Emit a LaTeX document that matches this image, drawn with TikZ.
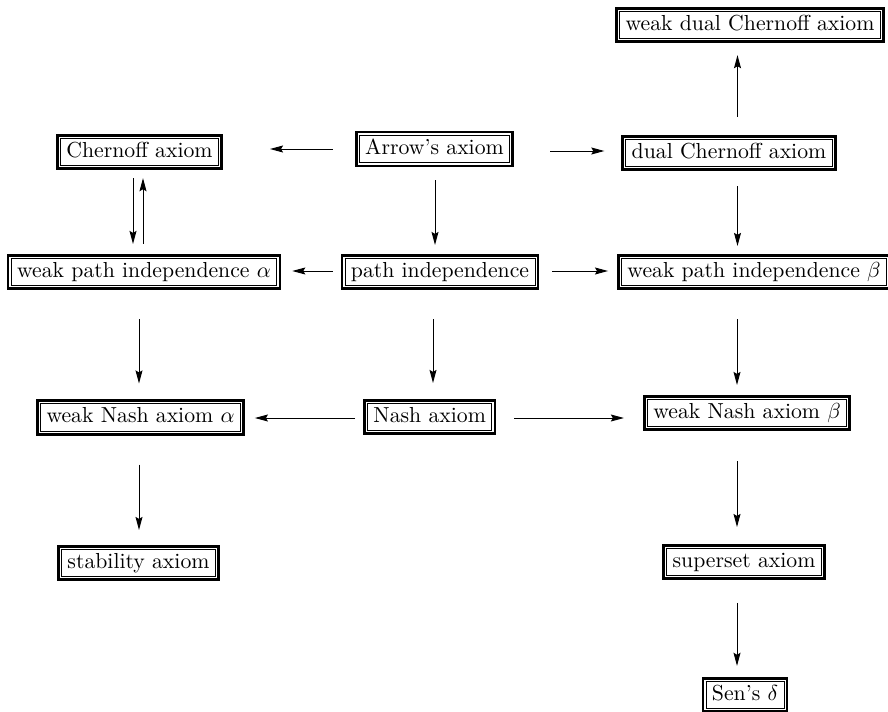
\documentclass[tikz,border=0pt]{standalone}
\usepackage{fontspec}
\usetikzlibrary{arrows.meta,calc}
\setlength{\fboxrule}{0.45pt}
\setlength{\fboxsep}{1.5pt}
\newcommand{\dbox}[1]{\fbox{\kern1pt\vrule width0pt height6.9pt depth2.1pt\relax #1\kern1pt}}
\tikzset{
  ax/.style={draw, line width=1.25pt, inner sep=1.2pt},
  arr/.style={line width=0.45pt, -{Stealth[length=6pt,width=3.2pt,inset=0.9pt]}}
}
\begin{document}
\begin{tikzpicture}[x=0.46pt,y=-0.46pt]
\useasboundingbox (0,0) rectangle (888,712);
\node[ax] (wdc)    at (750,25)     {\dbox{weak dual Chernoff axiom}};
\node[ax] (chern)  at (139.5,152)  {\dbox{Chernoff axiom}};
\node[ax] (arrow)  at (434.5,149)  {\dbox{Arrow's axiom}};
\node[ax] (dchern) at (729,153)    {\dbox{dual Chernoff axiom}};
\node[ax] (wpa)    at (144,272)    {\dbox{weak path independence $\alpha$}};
\node[ax] (pind)   at (440,272)    {\dbox{path independence}};
\node[ax] (wpb)    at (754,272)    {\dbox{weak path independence $\beta$}};
\node[ax] (wna)    at (140.5,417.5){\dbox{weak Nash axiom $\alpha$}};
\node[ax] (nash)   at (429.7,417)  {\dbox{Nash axiom}};
\node[ax] (wnb)    at (747,413)    {\dbox{weak Nash axiom $\beta$}};
\node[ax] (stab)   at (138.5,563)  {\dbox{stability axiom}};
\node[ax] (sup)    at (744,562)    {\dbox{superset axiom}};
\node[ax] (sen)    at (745,695)    {\dbox{Sen's $\delta$}};

\draw[arr] ($(arrow.west)+(-22,0)$) -- ($(arrow.west -| chern.east)+(47,0)$);
\draw[arr] ($(arrow.east)+(36,2)$) -- ($(arrow.east -| dchern.west)+(-17,2)$);
\draw[arr] ($(arrow.south)+(0.5,13)$) -- ($(arrow.south |- pind.north)+(0.5,-9)$);
\draw[arr] ($(dchern.north)+(8.5,-18)$) -- ($(dchern.north |- wdc.south)+(8.5,12)$);
\draw[arr] ($(dchern.south)+(8.5,15)$) -- ($(dchern.south |- wpb.north)+(8.5,-8)$);
\draw[arr] ($(chern.south)+(-6.5,8)$) -- ($(chern.south |- wpa.north)+(-6.5,-10)$);
\draw[arr] ($(chern.south |- wpa.north)+(3.5,-10)$) -- ($(chern.south)+(3.5,8)$);
\draw[arr] ($(pind.west)+(-8,-1)$) -- ($(pind.west -| wpa.east)+(11,-1)$);
\draw[arr] ($(pind.east)+(13,-1)$) -- ($(pind.east -| wpb.west)+(-9,-1)$);
\draw[arr] ($(wpa.south)+(-5,29)$) -- ($(wpa.south |- wna.north)+(-5,-16)$);
\draw[arr] ($(pind.south)+(-7,29)$) -- ($(pind.south |- nash.north)+(-7,-16)$);
\draw[arr] ($(wpb.south)+(-17,29)$) -- ($(wpb.south |- wnb.north)+(-17,-10)$);
\draw[arr] ($(nash.west)+(-8,1)$) -- ($(nash.west -| wna.east)+(10,1)$);
\draw[arr] ($(nash.east)+(18,1)$) -- ($(nash.east -| wnb.west)+(-19,1)$);
\draw[arr] ($(wna.south)+(-1.5,29)$) -- ($(wna.south |- stab.north)+(-1.5,-15)$);
\draw[arr] ($(wnb.south)+(-10,30)$) -- ($(wnb.south |- sup.north)+(-10,-17)$);
\draw[arr] ($(sup.south)+(-7,23)$) -- ($(sup.south |- sen.north)+(-7,-11)$);
\end{tikzpicture}
\end{document}
